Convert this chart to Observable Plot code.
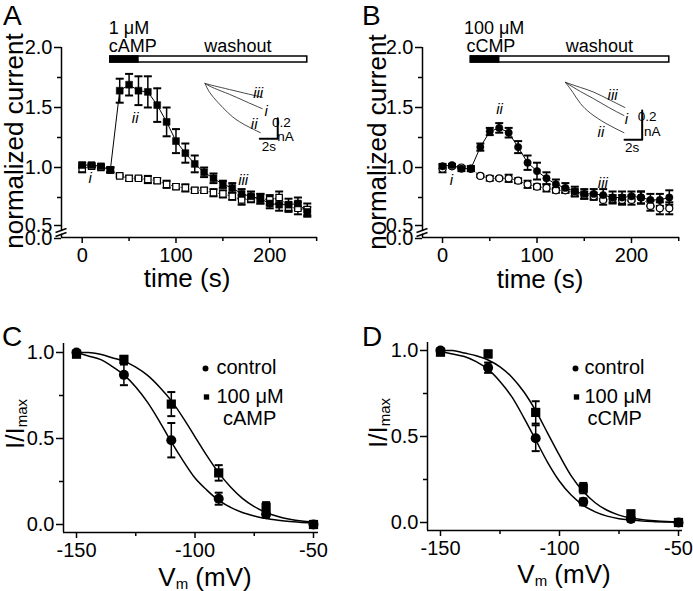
<!DOCTYPE html>
<html><head><meta charset="utf-8">
<script src="https://cdn.jsdelivr.net/npm/d3@7"></script>
<script src="https://cdn.jsdelivr.net/npm/@observablehq/plot@0.6"></script>
<style>
body{margin:0;background:#fff;}
#fig{position:relative;width:693px;height:591px;font-family:"Liberation Sans",Arial,sans-serif;color:#000;overflow:hidden;background:#fff;}
#fig svg{position:absolute;overflow:visible;}
.lbl{position:absolute;line-height:1;white-space:nowrap;font-family:"Liberation Sans",Arial,sans-serif;color:#000;}
.sub{font-size:15px;position:relative;top:3px;}
</style></head><body><div id="fig"></div><script>
// ---------- DATA ----------
const time = [0,10,20,30,40,50,60,70,80,90,100,110,120,130,140,150,160,170,180,190,200,210,220,230,240];
// Panel A: 1 µM cAMP (filled squares) and control (open squares)
const cAMP1 =     [1.02,1.02,1.01,0.98,1.64,1.69,1.64,1.63,1.52,1.38,1.22,1.12,1.03,0.96,0.91,0.86,0.83,0.78,0.76,0.74,0.70,0.69,0.69,0.70,0.63];
const cAMP1_sem = [0.02,0.015,0.015,0.02,0.10,0.09,0.12,0.13,0.14,0.12,0.10,0.08,0.07,0.04,0.04,0.03,0.04,0.04,0.04,0.04,0.04,0.05,0.05,0.05,0.04];
const ctrlA =     [0.99,1.01,1.00,0.98,0.93,0.91,0.91,0.90,0.89,0.86,0.84,0.83,0.81,0.81,0.79,0.78,0.76,0.73,0.74,0.74,0.73,0.75,0.67,0.66,0.65];
const ctrlA_sem = [0.03,0.01,0.01,0.02,0.01,0.02,0.01,0.03,0.02,0.03,0.02,0.03,0.02,0.02,0.03,0.03,0.03,0.04,0.03,0.04,0.04,0.05,0.04,0.05,0.05];
// Panel B: 100 µM cCMP (filled circles) and control (open circles)
const cCMP100t =     [1.01,1.02,0.99,0.99,1.17,1.30,1.33,1.29,1.17,1.04,0.97,0.91,0.86,0.83,0.80,0.78,0.78,0.77,0.75,0.75,0.76,0.75,0.73,0.73,0.75];
const cCMP100t_sem = [0.02,0.01,0.02,0.02,0.03,0.03,0.04,0.04,0.05,0.06,0.07,0.05,0.04,0.04,0.04,0.04,0.04,0.05,0.05,0.05,0.04,0.05,0.05,0.05,0.06];
const ctrlB =        [0.99,1.01,1.00,0.99,0.93,0.91,0.91,0.91,0.89,0.86,0.84,0.83,0.81,0.81,0.79,0.77,0.76,0.73,0.74,0.73,0.73,0.75,0.68,0.66,0.66];
const ctrlB_sem =    [0.03,0.01,0.01,0.02,0.01,0.02,0.01,0.03,0.02,0.03,0.02,0.03,0.02,0.02,0.03,0.03,0.03,0.04,0.03,0.04,0.04,0.05,0.04,0.05,0.05];
// inset current traces [time, level] in panel units
const traceA_iii = [[131,1.70],[141,1.68],[157,1.65],[173,1.62],[192,1.585]];
const traceA_i   = [[131,1.70],[141,1.66],[157,1.61],[173,1.555],[192,1.49]];
const traceA_ii  = [[131,1.70],[136,1.625],[145,1.54],[155,1.46],[168,1.38],[190,1.29]];
const traceB_iii = [[130,1.71],[146,1.667],[160,1.628],[176,1.567],[193,1.50]];
const traceB_i   = [[130,1.71],[146,1.633],[160,1.573],[176,1.50],[192,1.433]];
const traceB_ii  = [[130,1.71],[138,1.625],[146,1.533],[157,1.45],[173,1.367],[192,1.29]];
// application bars
const drugA = {dose:"1 μM", agent:"cAMP", start:30, stop:60, end:240, washX:166};
const drugB = {dose:"100 μM", agent:"cCMP", start:30, stop:60, end:240, washX:166};
// Panels C/D: steady-state activation
const vm = [-150,-130,-110,-90,-70,-50];
const ctrlC = [1.00,0.87,0.49,0.15,0.06,0.00];
const ctrlC_sem = [0.01,0.06,0.10,0.035,0.02,0.01];
const cAMP100 = [0.99,0.96,0.70,0.30,0.10,0.00];
const cAMP100_sem = [0.01,0.02,0.07,0.045,0.03,0.01];
const ctrlD = [1.00,0.90,0.49,0.12,0.02,0.00];
const ctrlD_sem = [0.01,0.03,0.075,0.02,0.015,0.01];
const cCMP100 = [0.99,0.98,0.64,0.20,0.05,0.00];
const cCMP100_sem = [0.01,0.02,0.065,0.03,0.02,0.01];
// fitted curves
const fitV = [-150,-145,-140,-135,-130,-125,-120,-115,-110,-105,-100,-95,-90,-85,-80,-75,-70,-65,-60,-55,-50];
const fitCtrlC = [1.00,0.98,0.96,0.92,0.87,0.80,0.71,0.60,0.48,0.37,0.27,0.20,0.14,0.10,0.07,0.05,0.035,0.025,0.017,0.012,0.008];
const fitCampC = [1.00,1.00,0.99,0.97,0.95,0.915,0.867,0.80,0.72,0.62,0.51,0.40,0.30,0.218,0.152,0.104,0.07,0.047,0.031,0.02,0.013];
const fitCtrlD = [0.994,0.98,0.965,0.935,0.89,0.82,0.73,0.61,0.48,0.35,0.24,0.158,0.10,0.062,0.037,0.022,0.014,0.008,0.005,0.003,0.002];
const fitCcmpD = [1.00,1.00,0.985,0.97,0.945,0.905,0.845,0.76,0.65,0.52,0.39,0.27,0.18,0.115,0.071,0.043,0.026,0.016,0.01,0.006,0.004];
// ticks
const tMajor = [0,100,200], tMinor = [50,150,250];
const nMajor = [0.5,1.0,1.5,2.0], nMinor = [0.75,1.25,1.75];
const vMajor = [-150,-100,-50], vMinor = [-125,-75];
const rMajor = [0,0.5,1.0], rMinor = [0.25,0.75];

// ---------- HELPERS ----------
const fig = document.getElementById("fig");
const FONT = "Liberation Sans, Arial, sans-serif";
const hcap = {draw(c){c.moveTo(-4,0);c.lineTo(4,0);}};
function fxFrom(G){return px => G.xd[0] + (px-G.mL)/(G.W-G.mL-G.mR)*(G.xd[1]-G.xd[0]);}
function fyFrom(G){return py => G.yd[1] - (py-G.mT)/(G.H-G.mT-G.mB)*(G.yd[1]-G.yd[0]);}
function errMarks(rows, x, y, e){
  return [
    Plot.ruleX(rows, {x, y1: d=>d[y]-d[e], y2: d=>d[y]+d[e], stroke:"black", strokeWidth:1.5}),
    Plot.dot(rows, {x, y: d=>d[y]+d[e], symbol:hcap, stroke:"black", strokeWidth:2, fill:"none"}),
    Plot.dot(rows, {x, y: d=>d[y]-d[e], symbol:hcap, stroke:"black", strokeWidth:2, fill:"none"})
  ];
}
function place(svg, left, top){svg.style.left=left+"px";svg.style.top=top+"px";fig.appendChild(svg);}
function label(html, left, top, size, extra){
  const d = document.createElement("div"); d.className="lbl"; d.innerHTML=html;
  d.style.left=left+"px"; d.style.top=top+"px"; d.style.fontSize=size+"px";
  if (extra) d.style.transform = extra;
  fig.appendChild(d);
}
const base = (G) => ({
  width:G.W, height:G.H, marginLeft:G.mL, marginRight:G.mR, marginTop:G.mT, marginBottom:G.mB,
  style:{fontFamily:FONT, fontSize:"20px", color:"black", background:"transparent", overflow:"visible"}
});

// ---------- PANELS A & B ----------
function timePanel(G, rows, drug, traces, tlabels, sbar, sbarLabels, filledSym, openSym, rF, rO, axisPx){
  const fx = fxFrom(G), fy = fyFrom(G);
  const y0 = G.yd[0];
  const barTop = fy(56), barBot = fy(62);
  const breakLines = [
    {x1:fx(axisPx-6), y1:fy(232), x2:fx(axisPx+5), y2:fy(228)},
    {x1:fx(axisPx-6), y1:fy(236), x2:fx(axisPx+5), y2:fy(232)}
  ];
  const gap = [{x1:G.xd[0], y1:fy(230.6), x2:G.xd[0], y2:fy(233.3)}];
  const lineOf = (arr) => Plot.line(arr, {x:d=>d[0], y:d=>d[1], curve:"natural", stroke:"#333", strokeWidth:0.9});
  return Plot.plot({
    ...base(G),
    x:{domain:G.xd, label:null},
    y:{domain:G.yd, label:null},
    marks:[
      Plot.ruleX([G.xd[0]], {stroke:"black", strokeWidth:1.5}),
      Plot.ruleY([y0], {stroke:"black", strokeWidth:1.5}),
      Plot.axisY(nMajor.slice(1), {tickSize:7, tickPadding:2, strokeWidth:1.5, label:null, tickFormat:d=>d.toFixed(1)}),
      Plot.axisY([nMajor[0]], {tickSize:7, tickPadding:2, strokeWidth:1.5, label:null, tickFormat:d=>d.toFixed(1), dy:-2}),
      Plot.axisY([y0], {tickSize:7, tickPadding:2, strokeWidth:1.5, label:null, tickFormat:()=>"0.0", dy:1}),
      Plot.axisY(nMinor, {tickSize:4, strokeWidth:1.5, label:null, tickFormat:()=>""}),
      Plot.axisX(tMajor, {tickSize:6, tickPadding:4, strokeWidth:1.5, label:null, tickFormat:d=>String(d)}),
      Plot.axisX(tMinor, {tickSize:4, strokeWidth:1.5, label:null, tickFormat:()=>""}),
      Plot.link(gap, {x1:"x1",y1:"y1",x2:"x2",y2:"y2", stroke:"white", strokeWidth:4}),
      Plot.link(breakLines, {x1:"x1",y1:"y1",x2:"x2",y2:"y2", stroke:"black", strokeWidth:1.5}),
      // application bar
      Plot.rect([drug], {x1:"start", x2:"end", y1:()=>barBot, y2:()=>barTop, fill:"white", stroke:"black", strokeWidth:1.5}),
      Plot.rect([drug], {x1:"start", x2:"stop", y1:()=>barBot, y2:()=>barTop, fill:"black", stroke:"black", strokeWidth:1.5}),
      Plot.text([drug], {x:"start", y:()=>fy(27.5), text:"dose", textAnchor:"start", dx:drug.dx1, fontSize:18}),
      Plot.text([drug], {x:"start", y:()=>fy(45.5), text:"agent", textAnchor:"start", dx:drug.dx2, fontSize:18}),
      Plot.text([drug], {x:"washX", y:()=>fy(45.5), text:()=>"washout", fontSize:18}),
      // inset traces + scale bar
      ...traces.map(lineOf),
      Plot.line([[sbar.x0,sbar.y0],[sbar.x1,sbar.y0],[sbar.x1,sbar.y1]], {x:d=>d[0], y:d=>d[1], stroke:"black", strokeWidth:2}),
      Plot.text(sbarLabels, {x:"x", y:"y", text:"t", textAnchor:d=>d.a, fontSize:13.5}),
      Plot.text(tlabels, {x:"x", y:"y", text:"t", fontSize:15, fontStyle:"italic"}),
      // data
      Plot.line(rows, {x:"t", y:"c", stroke:"#444", strokeWidth:1, strokeDasharray:"1.2,2"}),
      Plot.line(rows, {x:"t", y:"f", stroke:"black", strokeWidth:1}),
      ...errMarks(rows, "t", "c", "ce"),
      ...errMarks(rows, "t", "f", "fe"),
      Plot.dot(rows, {x:"t", y:"c", symbol:openSym, r:rO, fill:"white", stroke:"black", strokeWidth:1.2}),
      Plot.dot(rows, {x:"t", y:"f", symbol:filledSym, r:rF, fill:"black", stroke:"black", strokeWidth:0.5})
    ]
  });
}

const GA = {W:345,H:300,mL:61,mR:28,mT:47,mB:63,xd:[-22.07,250.9],yd:[0.4167,2.0]};
const rowsA = time.map((t,i)=>({t, f:cAMP1[i], fe:cAMP1_sem[i], c:ctrlA[i], ce:ctrlA_sem[i]}));
const labelsA = [{x:8.5,y:0.908,t:"i"},{x:56.5,y:1.408,t:"ii"},{x:171.6,y:0.892,t:"iii"},
                 {x:187.6,y:1.617,t:"iii"},{x:196.2,y:1.469,t:"i"},{x:183.4,y:1.358,t:"ii"}];
const sbarA = {x0:189.3, x1:208.5, y0:1.239, y1:1.411};
const sbarLabA = [{x:212.5,y:1.372,t:"0.2",a:"start"},{x:216.7,y:1.256,t:"nA",a:"start"},{x:199,y:1.172,t:"2s",a:"middle"}];
place(timePanel(GA, rowsA, {...drugA, dx1:-1.5, dx2:-1.5}, [traceA_iii, traceA_i, traceA_ii], labelsA, sbarA, sbarLabA, "square", "square", 3.9, 3.6, 61), 0, 0);

const GB = {W:348,H:300,mL:77,mR:14,mT:47,mB:63,xd:[-21.2,250.8],yd:[0.4167,2.0]};
const rowsB = time.map((t,i)=>({t, f:cCMP100t[i], fe:cCMP100t_sem[i], c:ctrlB[i], ce:ctrlB_sem[i]}));
const labelsB = [{x:9.5,y:0.892,t:"i"},{x:60.4,y:1.49,t:"ii"},{x:169.7,y:0.867,t:"iii"},
                 {x:180,y:1.60,t:"iii"},{x:194.7,y:1.40,t:"i"},{x:167.6,y:1.294,t:"ii"}];
const sbarB = {x0:192.6, x1:211.3, y0:1.231, y1:1.475};
const sbarLabB = [{x:216.6,y:1.425,t:"0.2",a:"start"},{x:221.9,y:1.302,t:"nA",a:"start"},{x:200.7,y:1.166,t:"2s",a:"middle"}];
place(timePanel(GB, rowsB, {...drugB, dx1:-7, dx2:-4.5}, [traceB_iii, traceB_i, traceB_ii], labelsB, sbarB, sbarLabB, "circle", "circle", 3.7, 3.5, 77), 345, 0);

// ---------- PANELS C & D ----------
function ivPanel(G, rows, fitA, fitB, agent, leg){
  const fx = fxFrom(G), fy = fyFrom(G);
  const fits = fitV.map((v,i)=>({v, a:fitA[i], b:fitB[i]}));
  const legSym = [{x:fx(leg.sx), y:fy(68), s:"circle"},{x:fx(leg.sx+1), y:fy(96.5), s:"square"}];
  const legTxt = [{x:fx(leg.tx), y:fy(67), t:"control"},{x:fx(leg.tx), y:fy(96.5), t:"100 μM"},{x:fx(leg.tx2), y:fy(118), t:agent}];
  return Plot.plot({
    ...base(G),
    x:{domain:G.xd, label:null},
    y:{domain:G.yd, label:null},
    marks:[
      Plot.ruleX([G.xd[0]], {stroke:"black", strokeWidth:1.5}),
      Plot.ruleY([G.yd[0]], {stroke:"black", strokeWidth:1.5}),
      Plot.axisY(rMajor, {tickSize:7, tickPadding:2, strokeWidth:1.5, label:null, tickFormat:d=>d.toFixed(1)}),
      Plot.axisY(rMinor, {tickSize:4, strokeWidth:1.5, label:null, tickFormat:()=>""}),
      Plot.axisX(vMajor, {tickSize:6, tickPadding:4, strokeWidth:1.5, label:null, tickFormat:d=>String(d)}),
      Plot.axisX(vMinor, {tickSize:4, strokeWidth:1.5, label:null, tickFormat:()=>""}),
      Plot.line(fits, {x:"v", y:"a", curve:"monotone-x", stroke:"black", strokeWidth:1.5}),
      Plot.line(fits, {x:"v", y:"b", curve:"monotone-x", stroke:"black", strokeWidth:1.5}),
      ...errMarks(rows, "v", "c", "ce"),
      ...errMarks(rows, "v", "d", "de"),
      Plot.dot(rows, {x:"v", y:"d", symbol:"square", r:5.2, fill:"black"}),
      Plot.dot(rows, {x:"v", y:"c", symbol:"circle", r:5, fill:"black"}),
      Plot.dot(legSym, {x:"x", y:"y", symbol:"s", r:d=>d.s==="circle"?5:5.1, fill:"black"}),
      Plot.text(legTxt, {x:"x", y:"y", text:"t", textAnchor:"start", fontSize:20})
    ]
  });
}
const GC = {W:345,H:291,mL:63,mR:27,mT:43,mB:59,xd:[-155.49,-47.89],yd:[-0.0465,1.0523]};
const rowsC = vm.map((v,i)=>({v, c:ctrlC[i], ce:ctrlC_sem[i], d:cAMP100[i], de:cAMP100_sem[i]}));
place(ivPanel(GC, rowsC, fitCtrlC, fitCampC, "cAMP", {sx:205, tx:216, tx2:222.5}), 0, 300);
const GD = {W:348,H:291,mL:82,mR:11,mT:42,mB:61,xd:[-155.46,-48.32],yd:[-0.0465,1.0465]};
const rowsD = vm.map((v,i)=>({v, c:ctrlD[i], ce:ctrlD_sem[i], d:cCMP100[i], de:cCMP100_sem[i]}));
place(ivPanel(GD, rowsD, fitCtrlD, fitCcmpD, "cCMP", {sx:230, tx:239, tx2:242}), 345, 300);

// ---------- TEXT LABELS ----------
label("A", 3, 2, 28); label("B", 362, 2, 28); label("C", 2, 323, 28); label("D", 362, 323, 28);
label("normalized current", 14, 141, 26, "translate(-50%,-50%) rotate(-90deg)");
label("normalized current", 376.5, 141.5, 26, "translate(-50%,-50%) rotate(-90deg)");
label("time (s)", 187, 265, 26, "translate(-50%,0)");
label("time (s)", 540, 266, 26, "translate(-50%,0)");
label('I/I<span class="sub">max</span>', 15, 424, 26, "translate(-50%,-50%) rotate(-90deg)");
label('I/I<span class="sub">max</span>', 378, 423, 26, "translate(-50%,-50%) rotate(-90deg)");
label('V<span class="sub">m</span> (mV)', 205, 564, 26, "translate(-50%,0)");
label('V<span class="sub">m</span> (mV)', 564, 561, 26, "translate(-50%,0)");
</script></body></html>
